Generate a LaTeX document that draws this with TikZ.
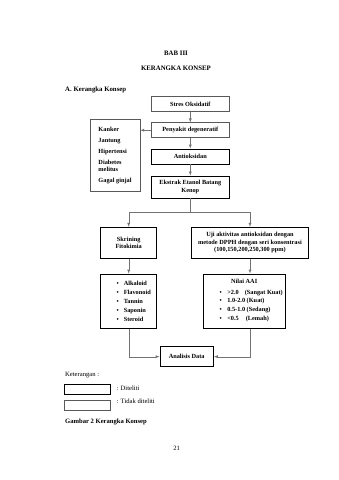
\documentclass[tikz,border=0pt]{standalone}
\usepackage{fontspec}
\setmainfont{Liberation Serif}
\begin{document}
\begin{tikzpicture}[>=latex, x=1pt, y=-1pt]
	\tikzset{
		diteliti/.style={draw=black, line width=0.9pt, inner sep=1pt,
				font=\fontsize{6.3}{7.5}\selectfont\bfseries, align=center},
		tidakditeliti/.style={diteliti, draw=black!65, line width=0.45pt},
		alur/.style={draw=black!55, line width=0.4pt},
		judul/.style={font=\fontsize{6.8}{8}\selectfont\bfseries},
		biasa/.style={font=\fontsize{6.6}{8}\selectfont, inner sep=0pt},
	}
	\fill[white] (0,0) rectangle (339,480);
	\useasboundingbox (0,0) rectangle (339,480);
	% judul halaman
	\node[judul] (bab) at (176,53) {BAB III};
	\node[judul] (kerangka) at (176,68) {KERANGKA KONSEP};
	\node[judul, anchor=west, inner sep=0pt] (subjudul) at (65,90) {A. Kerangka Konsep};
	% alur utama
	\node[tidakditeliti, minimum width=77.3pt, minimum height=15pt] (stres) at (190.3,104.2) {Stres Oksidatif};
	\node[tidakditeliti, minimum width=77.3pt, minimum height=15pt] (penyakit) at (190.3,130.2) {Penyakit degeneratif};
	\node[diteliti, minimum width=77.3pt, minimum height=15pt] (antioksidan) at (190.3,156.5) {Antioksidan};
	\node[diteliti, minimum width=77.3pt, minimum height=22pt] (ekstrak) at (190.3,187) {Ekstrak Etanol Batang\\Kenop};
	\node[tidakditeliti, minimum width=50pt, minimum height=72.4pt, align=left] (jenis) at (115,155.5)
	{Kanker\\[3.5pt] Jantung\\[3.5pt] Hipertensi\\[3.5pt] Diabetes\\ melitus\\[3.5pt] Gagal ginjal};
	% cabang penelitian
	\node[diteliti, minimum width=56pt, minimum height=31pt] (skrining) at (128.7,242.8) {Skrining\\Fitokimia};
	\node[diteliti, minimum width=116.6pt, minimum height=31pt] (uji) at (250,242.8)
	{Uji aktivitas antioksidan dengan\\metode DPPH dengan seri konsentrasi\\(100,150,200,250,300 ppm)};
	\node[diteliti, minimum width=56pt, minimum height=54.3pt, font=\fontsize{6.3}{9}\selectfont\bfseries] (senyawa) at (128.7,301.2)
	{\begin{tabular}{@{\hspace{10pt}}l@{\hspace{5pt}}l@{}}
			\textbullet & Alkaloid\\ \textbullet & Flavonoid\\ \textbullet & Tannin\\
			\textbullet & Saponin\\ \textbullet & Steroid
		\end{tabular}};
	\node[diteliti, minimum width=81.7pt, minimum height=54.3pt, font=\fontsize{6.3}{8.7}\selectfont\bfseries] (aai) at (244.2,301.2)
	{Nilai AAI\\[3pt]
		\begin{tabular}{@{\hspace{14pt}}l@{\hspace{5.5pt}}l@{}}
			\textbullet & >2.0\hspace{6pt}(Sangat Kuat)\\
			\textbullet & 1.0-2.0 (Kuat)\\
			\textbullet & 0.5-1.0 (Sedang)\\
			\textbullet & <0.5\hspace{7pt}(Lemah)
		\end{tabular}};
	\node[diteliti, minimum width=53.3pt, minimum height=20pt] (analisis) at (186.7,356.7) {Analisis Data};
	% penghubung
	\draw[alur, ->] (stres) -- (penyakit);
	\draw[alur, ->] (penyakit.west) -- (penyakit.west -| jenis.east);
	\draw[alur, ->] (penyakit) -- (antioksidan);
	\draw[alur, ->] (antioksidan) -- (ekstrak);
	\coordinate (cabang) at (190.3,212);
	\draw[alur] (ekstrak) -- (cabang);
	\draw[alur, ->] (cabang) -| (skrining.north);
	\draw[alur, ->] (cabang) -| (uji.north);
	\draw[alur, ->] (skrining.south) -- (senyawa.north);
	\draw[alur, ->] (uji.south) -- (uji.south |- aai.north);
	\draw[alur, ->] (senyawa.south) |- (analisis.west);
	\draw[alur, ->] (aai.south -| uji.south) |- (analisis.east);
	% keterangan
	\node[biasa, anchor=west] (keterangan) at (65,375) {Keterangan :};
	\node[diteliti, minimum width=46.4pt, minimum height=10.3pt] (legenda1) at (87.5,389.2) {};
	\node[biasa, anchor=west] (labelteliti) at (116.5,388) {: Diteliti};
	\node[tidakditeliti, minimum width=46.4pt, minimum height=10pt] (legenda2) at (87.5,405) {};
	\node[biasa, anchor=west] (labeltidak) at (116.5,401.7) {: Tidak diteliti};
	\node[judul, anchor=west, inner sep=0pt, font=\fontsize{6.6}{8}\selectfont\bfseries] (gambar) at (65,421.7) {Gambar 2 Kerangka Konsep};
	\node[biasa] (halaman) at (176.7,448) {21};
\end{tikzpicture}
\end{document}
